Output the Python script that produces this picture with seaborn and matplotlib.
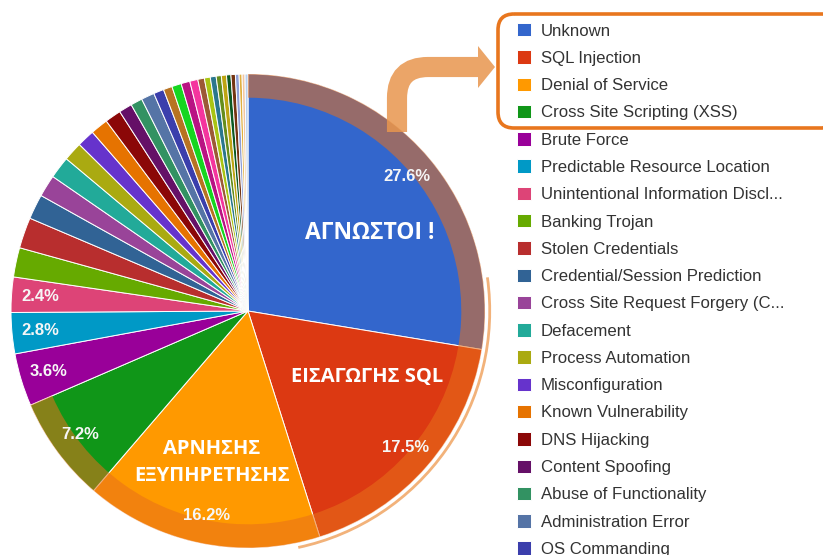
import matplotlib
matplotlib.use("Agg")
import matplotlib.pyplot as plt
import seaborn as sns
from matplotlib.patches import Wedge, Arc, FancyBboxPatch, PathPatch, Polygon
from matplotlib.path import Path

# attack types shown in the legend (the list is cut off at the bottom)
attack_types = ["Unknown", "SQL Injection", "Denial of Service",
                "Cross Site Scripting (XSS)", "Brute Force",
                "Predictable Resource Location",
                "Unintentional Information Discl...", "Banking Trojan",
                "Stolen Credentials", "Credential/Session Prediction",
                "Cross Site Request Forgery (C...", "Defacement",
                "Process Automation", "Misconfiguration",
                "Known Vulnerability", "DNS Hijacking", "Content Spoofing",
                "Abuse of Functionality", "Administration Error",
                "OS Commanding"]
shares = [27.6, 17.5, 16.2, 7.2, 3.6, 2.8, 2.4, 2.0, 2.1, 1.7,
          1.5, 1.5, 1.3, 1.2, 1.2, 1.1, 0.9, 0.8, 0.9, 0.7]
# thin slices whose names fall below the visible legend
other_shares = [0.6, 0.65, 0.6, 0.55, 0.45, 0.4, 0.4, 0.35,
                0.35, 0.3, 0.3, 0.25, 0.2, 0.2, 0.2]

colors = ["#3366cc", "#dc3912", "#ff9900", "#109618", "#990099",
          "#0099c6", "#dd4477", "#66aa00", "#b82e2e", "#316395",
          "#994499", "#22aa99", "#aaaa11", "#6633cc", "#e67300",
          "#8b0707", "#651067", "#329262", "#5574a6", "#3b3eac",
          "#b77322", "#16d620", "#b91383", "#f4359e", "#9c5935",
          "#a9c413", "#2a778d", "#668d1c", "#bea413", "#0c5922",
          "#743411", "#8e9ed6", "#e0b040", "#f2c6a0", "#b8d0f0"]

greek_labels = ["ΑΓΝΩΣΤΟΙ !", "ΕΙΣΑΓΩΓΗΣ SQL", "ΑΡΝΗΣΗΣ\nΕΞΥΠΗΡΕΤΗΣΗΣ"]
n_highlight = 4   # first four types are boxed in the legend

sns.set_theme(style="white")
plt.rcParams["font.family"] = ["Liberation Sans", "DejaVu Sans"]

values = shares + other_shares
palette = sns.color_palette(colors, len(values))

fig = plt.figure(figsize=(8.23, 5.55), dpi=100)
cx, cy, R = 248, 311, 237
half = 1.06 * R
ax = fig.add_axes([(cx - half) / 823, (555 - cy - half) / 555,
                   2 * half / 823, 2 * half / 555])

wedges, _, autotexts = ax.pie(
    values, colors=palette, startangle=90, counterclock=False,
    autopct=lambda p: f"{p:.1f}%" if p >= 2.3 else "", pctdistance=0.88,
    wedgeprops=dict(edgecolor="white", linewidth=0.7),
    textprops=dict(color="#f6f6f6", fontsize=12, fontweight="bold"))
ax.set_xlim(-1.06, 1.06)
ax.set_ylim(-1.06, 1.06)
ax.set_aspect("equal")
ax.axis("off")

# highlight ring over the first four slices
end_angle = 90 - sum(shares[:n_highlight]) / sum(values) * 360
ax.add_patch(Wedge((0, 0), 1.0, end_angle, 90, width=0.1,
                   facecolor="#e8701a", alpha=0.55, edgecolor="none"))
ax.add_patch(Arc((0, 0), 2.04, 2.04, theta1=-78, theta2=8,
                 color="#f2b27a", lw=2))

label_font = dict(color="white", fontweight="bold",
                  family=["Open Sans", "DejaVu Sans"], ha="center", va="center")
ax.text(0.515, 0.329, greek_labels[0], fontsize=16.5, **label_font)
ax.text(0.504, -0.278, greek_labels[1], fontsize=14.5, **label_font)
ax.text(-0.153, -0.639, greek_labels[2], fontsize=14.5, linespacing=1.45,
        **label_font)

# legend for the named types
fig.legend(wedges[:len(attack_types)], attack_types, loc="upper left",
           bbox_to_anchor=(517 / 823, 1 - 23 / 555), frameon=False,
           fontsize=12.1, labelcolor="#333333", handlelength=0.85,
           handleheight=0.85, handletextpad=0.55, labelspacing=0.70,
           borderpad=0, borderaxespad=0)

# overlay in pixel units for the box and the arrow
over = fig.add_axes([0, 0, 1, 1], zorder=3)
over.set_xlim(0, 823)
over.set_ylim(555, 0)
over.axis("off")
over.add_patch(FancyBboxPatch((498, 14), 340, 114,
                              boxstyle="round,pad=0,rounding_size=16",
                              facecolor="none", edgecolor="#e8761e", lw=2.6))
arrow_color = "#e8964e"
body = Path([(397, 132), (397, 98), (397, 67), (428, 67), (478, 67)],
            [Path.MOVETO, Path.LINETO, Path.CURVE3, Path.CURVE3, Path.LINETO])
over.add_patch(PathPatch(body, facecolor="none", edgecolor=arrow_color,
                         lw=14.5, capstyle="butt", joinstyle="miter", alpha=0.85))
over.add_patch(Polygon([(478, 46), (495, 67), (478, 88)], closed=True,
                       facecolor=arrow_color, edgecolor="none", alpha=0.85))

fig.savefig("out.png", dpi=100)
